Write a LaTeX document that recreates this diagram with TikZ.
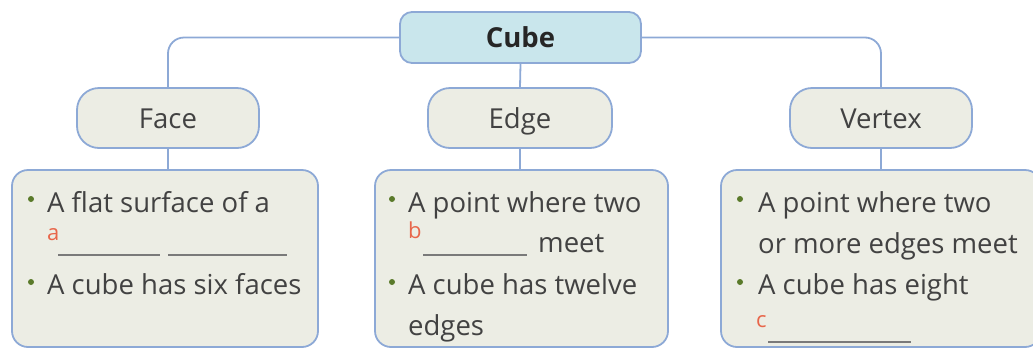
\documentclass[tikz,border=0pt]{standalone}
\usepackage{fontspec}
\setmainfont{Open Sans}
\definecolor{bordc}{HTML}{8DA9D6}
\definecolor{cubefill}{HTML}{C9E6EC}
\definecolor{boxfill}{HTML}{ECEDE4}
\definecolor{txt}{HTML}{424242}
\definecolor{redl}{HTML}{E8664A}
\definecolor{bulg}{HTML}{5A7A2A}
\definecolor{ulc}{HTML}{7A7A7A}
\tikzset{
  base/.style={draw=bordc, line width=1.8pt, inner sep=0pt, text=txt,
    font=\fontsize{27.5}{33}\selectfont, text height=20pt, text depth=0pt},
  topbox/.style={base, fill=cubefill, rounded corners=12pt, font=\fontsize{27.5}{33}\selectfont\bfseries, text=black!85},
  headbox/.style={base, fill=boxfill, rounded corners=22pt},
  infobox/.style={draw=bordc, line width=1.8pt, fill=boxfill, rounded corners=16pt},
  conn/.style={draw=bordc, line width=1.8pt, rounded corners=16pt},
  tline/.style={anchor=base west, inner sep=0pt, text=txt, font=\fontsize{27.5}{33}\selectfont},
  lett/.style={anchor=base west, inner sep=0pt, text=redl, font=\fontsize{22}{26}\selectfont},
  bul/.style={circle, fill=bulg, inner sep=0pt, minimum size=6pt},
  uline/.style={draw=ulc, line width=1.4pt}
}
\begin{document}
\begin{tikzpicture}[x=1pt,y=-1pt]
\useasboundingbox (0,0) rectangle (1033,349);
\clip (0,0) rectangle (1033,349);
% boxes
\node[topbox, minimum width=241pt, minimum height=51pt] (cube) at (520.5,37.5) {Cube};
\node[headbox, minimum width=182pt, minimum height=60pt] (face) at (168,118) {Face};
\node[headbox, minimum width=184pt, minimum height=60pt] (edge) at (520,118) {Edge};
\node[headbox, minimum width=182pt, minimum height=60pt] (vertex) at (881,118) {Vertex};
\node[infobox, minimum width=306pt, minimum height=177pt] (facebox) at (165,258.5) {};
\node[infobox, minimum width=293pt, minimum height=177pt] (edgebox) at (521.5,258.5) {};
\node[infobox, minimum width=320pt, minimum height=177pt] (vertexbox) at (881,258.5) {};
% connectors
\draw[conn] (cube.west) -| (face.north);
\draw[conn] (cube.east) -| (vertex.north);
\draw[conn] (cube.south) -- (edge.north);
\draw[conn] (face.south) -- (face.south |- facebox.north);
\draw[conn] (edge.south) -- (edge.south |- edgebox.north);
\draw[conn] (vertex.south) -- (vertex.south |- vertexbox.north);
% Face text
\node[bul] (fb1) at (31,199) {};
\node[tline] (ft1) at (47,212) {A flat surface of a};
\node[lett] (fa) at (47,240) {a};
\coordinate (fu1s) at (58,255); \coordinate (fu1e) at (160,255);
\coordinate (fu2s) at (168,255); \coordinate (fu2e) at (287,255);
\draw[uline] (fu1s) -- (fu1e);
\draw[uline] (fu2s) -- (fu2e);
\node[bul] (fb2) at (31,282) {};
\node[tline] (ft2) at (47,294) {A cube has six faces};
% Edge text
\node[bul] (eb1) at (392,199) {};
\node[tline] (et1) at (408,212) {A point where two};
\node[lett] (eb) at (408,238) {b};
\coordinate (eus) at (423,255); \coordinate (eue) at (527,255);
\draw[uline] (eus) -- (eue);
\node[tline] (et2) at (538,252) {meet};
\node[bul] (eb2) at (392,282) {};
\node[tline] (et3) at (408,294) {A cube has twelve};
\node[tline] (et4) at (408,335) {edges};
% Vertex text
\node[bul] (vb1) at (740,199) {};
\node[tline] (vt1) at (758,212) {A point where two};
\node[tline] (vt2) at (758,253) {or more edges meet};
\node[bul] (vb2) at (740,282) {};
\node[tline] (vt3) at (758,294) {A cube has eight};
\node[lett] (vc) at (756,327) {c};
\coordinate (vus) at (768,342); \coordinate (vue) at (911,342);
\draw[uline] (vus) -- (vue);
\end{tikzpicture}
\end{document}
